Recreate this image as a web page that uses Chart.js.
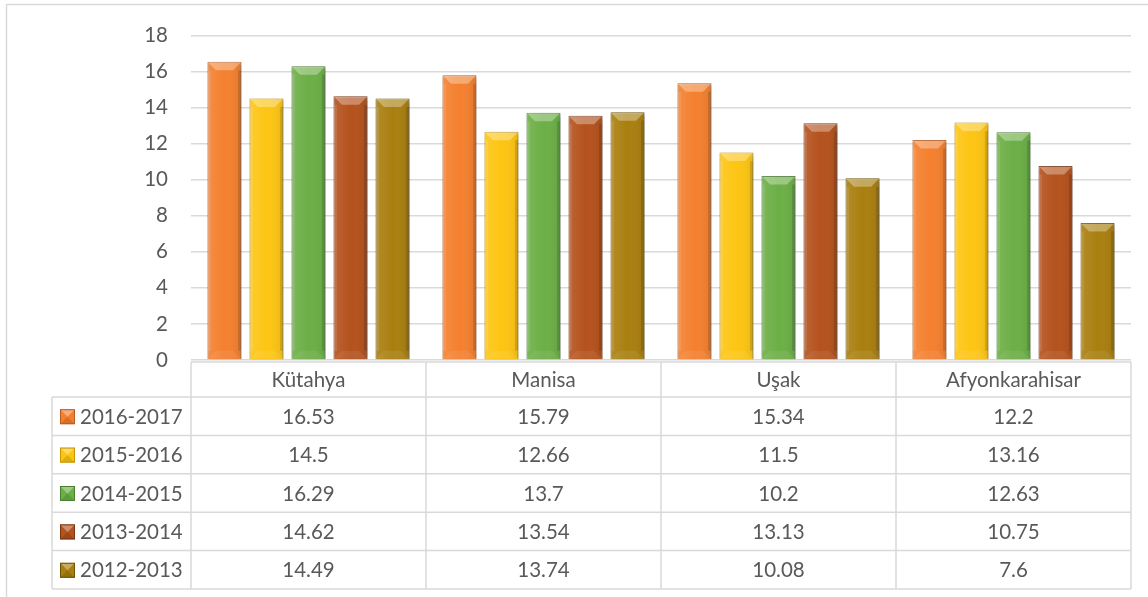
<!DOCTYPE html>
<html><head><meta charset="utf-8">
<script src="https://cdn.jsdelivr.net/npm/chart.js@4/dist/chart.umd.min.js"></script>
<style>html,body{margin:0;padding:0;background:#fff;}#wrap{position:relative;width:1148px;height:597px;}</style>
</head><body><div id="wrap"><canvas id="c" width="1148" height="597"></canvas></div>
<script>
const categories = ['Kütahya', 'Manisa', 'Uşak', 'Afyonkarahisar'];
const seriesLabels = ['2016-2017', '2015-2016', '2014-2015', '2013-2014', '2012-2013'];
const s2016_2017 = [16.53, 15.79, 15.34, 12.2];
const s2015_2016 = [14.5, 12.66, 11.5, 13.16];
const s2014_2015 = [16.29, 13.7, 10.2, 12.63];
const s2013_2014 = [14.62, 13.54, 13.13, 10.75];
const s2012_2013 = [14.49, 13.74, 10.08, 7.6];
const yMin = 0, yMax = 18, yStep = 2;

const fills = ['#F4802F', '#FDC513', '#6CAF46', '#B4521D', '#A97F0F'];
const borders = ['#B95C22', '#C4960C', '#4A7F30', '#7A3512', '#6E5307'];
const seriesValues = [s2016_2017, s2015_2016, s2014_2015, s2013_2014, s2012_2013];

const FONT = 'Lato, "Open Sans", sans-serif';
const FSIZE = 20.5;
const TXT = '#595959';
const LINE = '#d9d9d9';

const bevelPlugin = {
  id: 'bevel',
  beforeDatasetsDraw(chart) {
    const ctx = chart.ctx;
    ctx.save();
    ctx.shadowColor = 'rgba(0,0,0,0.32)';
    ctx.shadowBlur = 4;
    ctx.shadowOffsetX = 2;
    ctx.shadowOffsetY = 2;
  },
  afterDatasetsDraw(chart) {
    const ctx = chart.ctx;
    ctx.restore();
    ctx.save();
    chart.data.datasets.forEach((ds, di) => {
      const meta = chart.getDatasetMeta(di);
      meta.data.forEach(el => {
        const p = el.getProps(['x', 'y', 'base', 'width'], true);
        const l = p.x - p.width / 2 + 0.5, r = p.x + p.width / 2 - 0.5;
        const t = p.y + 0.5, b = p.base - 0.5;
        const bv = 8, sd = 3;
        const g = ctx.createLinearGradient(l, 0, r, 0);
        g.addColorStop(0, 'rgba(255,255,255,0.10)');
        g.addColorStop(0.5, 'rgba(255,255,255,0.0)');
        g.addColorStop(1, 'rgba(0,0,0,0.08)');
        ctx.fillStyle = g;
        ctx.fillRect(l, t, r - l, b - t);
        ctx.beginPath();
        ctx.moveTo(l, t); ctx.lineTo(r, t); ctx.lineTo(r - bv, t + bv); ctx.lineTo(l + bv, t + bv); ctx.closePath();
        ctx.fillStyle = 'rgba(255,255,255,0.32)';
        ctx.fill();
        ctx.fillStyle = 'rgba(255,255,255,0.10)';
        ctx.fillRect(l, t + bv, sd, b - t - 2 * bv);
        ctx.fillStyle = 'rgba(0,0,0,0.12)';
        ctx.fillRect(r - sd, t + bv, sd, b - t - 2 * bv);
        ctx.beginPath();
        ctx.moveTo(l, b); ctx.lineTo(r, b); ctx.lineTo(r - bv, b - bv); ctx.lineTo(l + bv, b - bv); ctx.closePath();
        ctx.fillStyle = 'rgba(255,255,255,0.07)';
        ctx.fill();
      });
    });
    ctx.restore();
  }
};

const framePlugin = {
  id: 'frame',
  beforeDraw(chart) {
    const ctx = chart.ctx;
    ctx.save();
    ctx.strokeStyle = LINE;
    ctx.lineWidth = 1.5;
    ctx.beginPath();
    ctx.moveTo(6.5, 600); ctx.lineTo(6.5, 4.5); ctx.lineTo(1150, 4.5);
    ctx.stroke();
    ctx.restore();
  }
};

function drawKey(ctx, x, y, s, fill, border) {
  ctx.fillStyle = fill;
  ctx.fillRect(x, y, s, s);
  ctx.beginPath();
  ctx.moveTo(x, y); ctx.lineTo(x + s, y); ctx.lineTo(x + s / 2, y + s / 2); ctx.closePath();
  ctx.fillStyle = 'rgba(255,255,255,0.35)';
  ctx.fill();
  ctx.beginPath();
  ctx.moveTo(x, y + s); ctx.lineTo(x + s, y + s); ctx.lineTo(x + s / 2, y + s / 2); ctx.closePath();
  ctx.fillStyle = 'rgba(0,0,0,0.12)';
  ctx.fill();
  ctx.strokeStyle = border;
  ctx.lineWidth = 1;
  ctx.strokeRect(x + 0.5, y + 0.5, s - 1, s - 1);
}

const tablePlugin = {
  id: 'dataTable',
  afterDraw(chart) {
    const ctx = chart.ctx, xs = chart.scales.x, area = chart.chartArea;
    const n = chart.data.labels.length;
    const cw = (xs.right - xs.left) / n;
    const headTop = area.bottom + 2, headH = 35, rowH = 38.4, legLeft = 52;
    const dsets = chart.data.datasets;
    const bodyTop = headTop + headH, bottom = bodyTop + dsets.length * rowH;
    ctx.save();
    ctx.strokeStyle = LINE;
    ctx.lineWidth = 1.5;
    const ln = (x1, y1, x2, y2) => { ctx.beginPath(); ctx.moveTo(x1, y1); ctx.lineTo(x2, y2); ctx.stroke(); };
    ln(xs.left, headTop, xs.right, headTop);
    for (let r = 0; r <= dsets.length; r++) ln(legLeft, bodyTop + r * rowH, xs.right, bodyTop + r * rowH);
    ln(legLeft, bodyTop, legLeft, bottom);
    for (let i = 0; i <= n; i++) ln(xs.left + i * cw, headTop, xs.left + i * cw, bottom);
    ctx.fillStyle = TXT;
    ctx.font = FSIZE + 'px ' + FONT;
    ctx.textAlign = 'center';
    ctx.textBaseline = 'middle';
    chart.data.labels.forEach((lab, i) => {
      ctx.fillText(lab, xs.getPixelForValue(i), headTop + headH / 2 + 1);
    });
    dsets.forEach((ds, r) => {
      const cy = bodyTop + r * rowH + rowH / 2 + 1;
      ds.data.forEach((v, i) => {
        ctx.fillStyle = TXT;
        ctx.textAlign = 'center';
        ctx.fillText(String(v), xs.getPixelForValue(i), cy);
      });
      drawKey(ctx, 60, cy - 8, 15, ds.backgroundColor, ds.borderColor);
      ctx.fillStyle = TXT;
      ctx.textAlign = 'left';
      ctx.fillText(ds.label, 80, cy);
    });
    ctx.restore();
  }
};

new Chart(document.getElementById('c'), {
  type: 'bar',
  data: {
    labels: categories,
    datasets: seriesLabels.map((lab, i) => ({
      label: lab,
      data: seriesValues[i],
      backgroundColor: fills[i],
      borderColor: borders[i],
      borderWidth: 1,
      categoryPercentage: 0.894,
      barPercentage: 0.81
    }))
  },
  options: {
    responsive: false,
    animation: false,
    devicePixelRatio: 1,
    layout: { padding: { left: 0, right: 17, top: 33, bottom: 237 } },
    plugins: { legend: { display: false }, tooltip: { enabled: false }, title: { display: false } },
    scales: {
      x: { display: false },
      y: {
        min: yMin, max: yMax,
        ticks: { stepSize: yStep, color: TXT, font: { family: FONT, size: FSIZE }, padding: 23 },
        grid: { color: LINE, lineWidth: 1.5, drawTicks: false },
        border: { display: false },
        afterFit(scale) { scale.width = 191; }
      }
    }
  },
  plugins: [framePlugin, bevelPlugin, tablePlugin]
});
</script>
</body></html>
